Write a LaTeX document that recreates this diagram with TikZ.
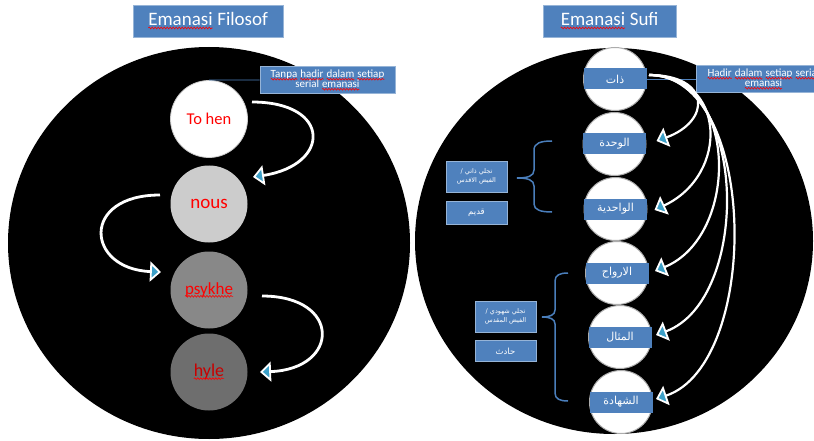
\documentclass[tikz,border=0pt]{standalone}
\usepackage{fontspec}
\setmainfont{Carlito}
\newfontfamily\arabicfont[Script=Arabic]{DejaVu Sans}
\TeXXeTstate=1
\usetikzlibrary{arrows.meta,decorations.pathmorphing}

\definecolor{boxblue}{RGB}{79,129,189}
\definecolor{boxedge}{RGB}{150,180,215}
\definecolor{tipcyan}{RGB}{60,160,200}
\definecolor{bracecol}{RGB}{74,126,187}
\definecolor{nousgray}{RGB}{204,204,204}
\definecolor{psygray}{RGB}{136,136,136}
\definecolor{hylegray}{RGB}{110,110,110}
\definecolor{hylered}{RGB}{200,0,0}

\newcommand\spl[1]{\tikz[baseline=(sq.base)]{\node[rectangle,draw=none,fill=none,minimum width=0pt,minimum height=0pt,inner sep=0pt,outer sep=0pt](sq){#1};\draw[red,line width=0.6pt,decorate,decoration={snake,amplitude=0.9pt,segment length=3pt}]([yshift=-2pt]sq.base west)--([yshift=-2pt]sq.base east);}}

\tikzset{
  titlebox/.style={fill=boxblue, draw=boxedge, line width=0.8pt, text=white,
    font=\fontsize{19}{21}\selectfont, minimum width=150pt, minimum height=32pt, inner sep=0pt},
  notebox/.style={fill=boxblue, draw=boxedge, line width=0.6pt, text=white,
    font=\fontsize{11}{11}\selectfont, align=center, minimum width=135pt, minimum height=27pt, inner sep=0pt},
  arbox/.style={fill=boxblue, draw=boxedge, line width=0.5pt, text=white,
    font=\arabicfont\fontsize{6.5}{9}\selectfont, align=center, minimum width=61pt, inner sep=0pt},
  lnode/.style={circle, minimum size=77pt, inner sep=0pt, font=\fontsize{18}{20}\selectfont},
  rnode/.style={circle, fill=white, draw=gray!65, line width=1pt, minimum size=63pt, inner sep=0pt},
  band/.style={rectangle, fill=boxblue, text=white, minimum width=63pt, minimum height=21pt, inner sep=0pt,
    font=\arabicfont\fontsize{11}{12}\selectfont},
  flow/.style={white, line width=2.8pt, -{Triangle[length=11pt,width=20pt,fill=tipcyan,line width=1.8pt]}},
  rflow/.style={white, line width=2.2pt, -{Triangle[length=11pt,width=20pt,fill=tipcyan,line width=1.8pt]}},
  brc/.style={bracecol, line width=1.5pt},
  lead/.style={boxblue, line width=0.8pt},
}

\begin{document}
\begin{tikzpicture}[x=1pt,y=-1pt]
\useasboundingbox (0,0) rectangle (814,441);
\clip (0,0) rectangle (814,441);
\fill[white] (0,0) rectangle (814,441);

% big black ellipses
\fill[black] (209,243) ellipse [x radius=201pt, y radius=196pt];
\fill[black] (614,241) ellipse [x radius=199pt, y radius=193pt];

% titles
\node[titlebox] (t1) at (208,21) {\spl{Emanasi} Filosof};
\node[titlebox, minimum width=133pt] (t2) at (609.5,21) {\spl{Emanasi} Sufi};

% left side nodes
\node[lnode, fill=white, draw=gray!40, line width=0.8pt, text=red, font=\fontsize{16.5}{18}\selectfont] (tohen) at (209,119) {To hen};
\node[lnode, fill=nousgray, text=red, font=\fontsize{19}{20}\selectfont] (nous) at (209,204) {nous};
\node[lnode, fill=psygray, text=red, font=\fontsize{17}{18}\selectfont] (psykhe) at (209,290) {\spl{psykhe}};
\node[lnode, fill=hylegray, text=hylered, font=\fontsize{18}{19}\selectfont] (hyle) at (209,372) {\spl{hyle}};

% note box left
\node[notebox] (tanpa) at (327.5,80) {\spl{Tanpa} \spl{hadir} \spl{dalam} \spl{setiap}\\[-1pt] serial \spl{emanasi}};
\draw[lead] (tohen.north) -- (tanpa.west);

% left arrows
\draw[flow] ([shift={(43,-17)}]tohen.center) .. controls +(80,0) and +(78,-12) .. ([shift={(44,-27)}]nous.center);
\draw[flow] ([shift={(-49,-9)}]nous.center) .. controls +(-80,0) and +(-75,-3) .. ([shift={(-48,-18)}]psykhe.center);
\draw[flow] ([shift={(53,6)}]psykhe.center) .. controls +(80,0) and +(80,-3) .. ([shift={(51,0)}]hyle.center);

% right side nodes
\node[rnode] (c1) at (615,79) {};
\node[rnode] (c2) at (614.5,144) {};
\node[rnode] (c3) at (615.5,209) {};
\node[rnode] (c4) at (617,273) {};
\node[rnode] (c5) at (620,337) {};
\node[rnode] (c6) at (621,402) {};
\node[band] (b1) at (c1.center) {\beginR ذات\endR};
\node[band] (b2) at (c2.center) {\beginR الوحدة\endR};
\node[band] (b3) at (c3.center) {\beginR الواحدية\endR};
\node[band] (b4) at (c4.center) {\beginR الارواح\endR};
\node[band] (b5) at (c5.center) {\beginR المثال\endR};
\node[band] (b6) at (c6.center) {\beginR الشهادة\endR};

% note box right
\draw[lead] (b1.east) -- (763.5,79);
\node[notebox] (hadir) at (763.5,79) {\spl{Hadir} \spl{dalam} \spl{setiap} \spl{serial}\\[-1pt] \spl{emanasi}};

% braces
\draw[brc] (552,141) .. controls (541,141) and (534,143) .. (534,150) -- (534,170)
  .. controls (534,176) and (528,178) .. (517,178)
  .. controls (528,178) and (534,180) .. (534,186) -- (534,204)
  .. controls (534,210) and (541,212) .. (552,212);
\draw[brc] (568,273) .. controls (560,273) and (555,275) .. (555,281) -- (555,310)
  .. controls (555,315) and (550,317) .. (542,317)
  .. controls (550,317) and (555,319) .. (555,324) -- (555,393)
  .. controls (555,399) and (560,401) .. (568,401);

% arabic side boxes
\node[arbox, minimum height=31pt] (q1) at (476.5,176.5) {\beginR تجلي ذاتي /\endR\\ \beginR الفيض الاقدس\endR};
\node[arbox, minimum height=23pt, font=\arabicfont\fontsize{8.5}{10}\selectfont] (q2) at (476.5,212.5) {\beginR قديم\endR};
\node[arbox, minimum height=31pt] (h1) at (505.5,316.5) {\beginR تجلي شهودي /\endR\\ \beginR الفيض المقدس\endR};
\node[arbox, minimum height=21pt, font=\arabicfont\fontsize{8.5}{10}\selectfont] (h2) at (505.5,351) {\beginR حادث\endR};

% right arrows
\draw[rflow] ([shift={(34,-4)}]c1.center) .. controls +(62,0) and +(55,-20) .. ([shift={(42,-3)}]c2.center);
\draw[rflow] ([shift={(34,-4)}]c1.center) .. controls +(78,0) and +(75,-35) .. ([shift={(39,1)}]c3.center);
\draw[rflow] ([shift={(34,-4)}]c1.center) .. controls +(90,0) and +(85,-35) .. ([shift={(38,-2)}]c4.center);
\draw[rflow] ([shift={(34,-4)}]c1.center) .. controls +(100,0) and +(95,-35) .. ([shift={(36,-2)}]c5.center);
\draw[rflow] ([shift={(34,-4)}]c1.center) .. controls +(110,0) and +(105,-35) .. ([shift={(35,-3)}]c6.center);
\end{tikzpicture}
\end{document}
